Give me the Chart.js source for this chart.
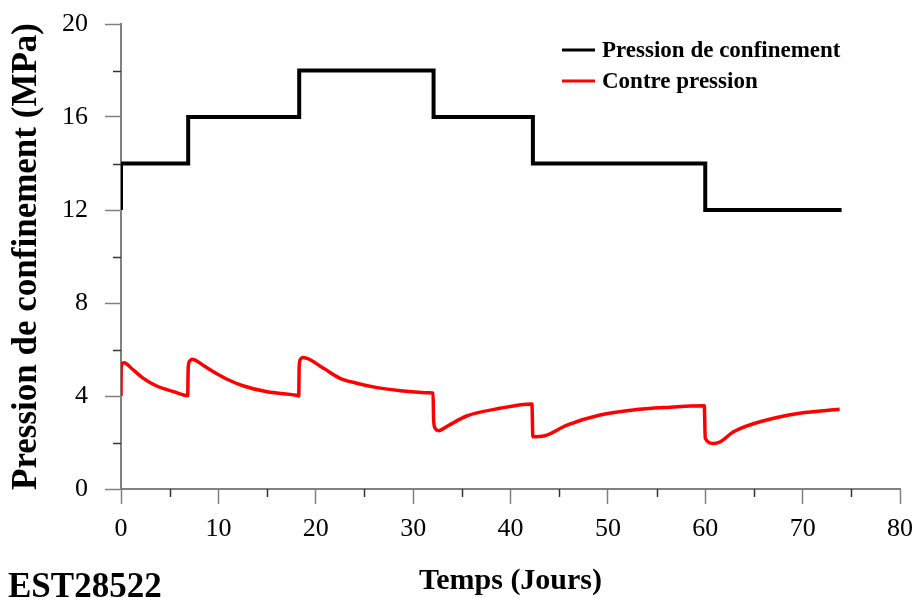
<!DOCTYPE html>
<html>
<head>
<meta charset="utf-8">
<script src="https://cdn.jsdelivr.net/npm/chart.js@4/dist/chart.umd.min.js"></script>
<style>
  html, body { margin: 0; padding: 0; background: #fff; }
  #wrap { position: relative; width: 916px; height: 598px; }
  #code { position: absolute; left: 8px; top: 568px; font: bold 35px "Liberation Serif", serif; line-height: 1; color: #000; }
</style>
</head>
<body>
<div id="wrap">
  <canvas id="chart" width="916" height="598"></canvas>
  <div id="code">EST28522</div>
</div>
<script>
// Pression de confinement (palier)
var confTime  = [0, 0, 6.9, 6.9, 18.3, 18.3, 32.1, 32.1, 42.3, 42.3, 60.0, 60.0, 74.0];
var confPress = [12, 14, 14, 16, 16, 18, 18, 16, 16, 14, 14, 12, 12];

// Contre pression
var backTime  = [0, 0.02, 0.12, 0.3, 1.26, 2.3, 3.66, 5.4, 6.85,
                 6.9, 7.05, 7.3, 8.5, 9.8, 11.0, 12.6, 15.0, 18.0, 18.25,
                 18.3, 18.45, 18.7, 20.8, 22.5, 24.2, 26.3, 28.7, 31.7, 32.05,
                 32.1, 32.25, 32.6, 33.5, 35.5, 38.9, 42.2,
                 42.3, 43.4, 45.8, 49.2, 52.6, 56.0, 59.9,
                 60.0, 60.8, 61.5, 62.9, 66.3, 69.7, 73.8];
var backPress = [4.0, 5.2, 5.4, 5.43, 5.12, 4.76, 4.43, 4.19, 4.02,
                 5.2, 5.5, 5.58, 5.3, 4.97, 4.7, 4.43, 4.18, 4.03, 4.0,
                 5.3, 5.6, 5.66, 5.19, 4.76, 4.55, 4.36, 4.23, 4.14, 4.12,
                 3.0, 2.62, 2.51, 2.7, 3.14, 3.47, 3.66,
                 2.25, 2.28, 2.75, 3.18, 3.40, 3.51, 3.58,
                 2.18, 1.96, 2.02, 2.46, 2.97, 3.26, 3.43];

var xTicks = [0, 10, 20, 30, 40, 50, 60, 70, 80];
var yTicks = [0, 4, 8, 12, 16, 20];
var xMinor = [5, 15, 25, 35, 45, 55, 65, 75];
var yMinor = [2, 6, 10, 14, 18];

function toPoints(xs, ys) {
    return xs.map(function (x, i) { return {x: x, y: ys[i]}; });
}

var serif = '"Liberation Serif", "Times New Roman", serif';

// minor tick marks + legend drawn with the chart scales
var extrasPlugin = {
    id: 'extras',
    afterDraw: function (chart) {
        var ctx = chart.ctx;
        var xs = chart.scales.x, ys = chart.scales.y;
        var area = chart.chartArea;
        ctx.save();
        ctx.strokeStyle = '#333';
        ctx.lineWidth = 1.5;
        xMinor.forEach(function (v) {
            var px = Math.round(xs.getPixelForValue(v)) + 0.5;
            ctx.beginPath();
            ctx.moveTo(px, area.bottom);
            ctx.lineTo(px, area.bottom + 8);
            ctx.stroke();
        });
        yMinor.forEach(function (v) {
            var py = Math.round(ys.getPixelForValue(v)) + 0.5;
            ctx.beginPath();
            ctx.moveTo(area.left - 8, py);
            ctx.lineTo(area.left, py);
            ctx.stroke();
        });
        // legend
        ctx.font = 'bold 23px ' + serif;
        ctx.textBaseline = 'middle';
        chart.data.datasets.forEach(function (ds, i) {
            var y = 50 + i * 31;
            ctx.strokeStyle = ds.borderColor;
            ctx.lineWidth = 3;
            ctx.beginPath();
            ctx.moveTo(562, y);
            ctx.lineTo(595, y);
            ctx.stroke();
            ctx.fillStyle = '#000';
            ctx.fillText(ds.label, 602, y + 1);
        });
        ctx.restore();
    }
};

function noOverflow(scale) {
    scale.paddingTop = 0;
    scale.paddingBottom = 0;
    scale.paddingLeft = 0;
    scale.paddingRight = 0;
}

new Chart(document.getElementById('chart'), {
    type: 'scatter',
    data: {
        datasets: [
            {
                label: 'Pression de confinement',
                data: toPoints(confTime, confPress),
                showLine: true,
                borderColor: '#000000',
                borderWidth: 4,
                pointRadius: 0,
                tension: 0,
                borderJoinStyle: 'miter'
            },
            {
                label: 'Contre pression',
                data: toPoints(backTime, backPress),
                showLine: true,
                borderColor: '#ff0000',
                borderWidth: 3.5,
                pointRadius: 0,
                cubicInterpolationMode: 'monotone'
            }
        ]
    },
    options: {
        responsive: false,
        animation: false,
        layout: { padding: { top: 24, right: 16, left: 0, bottom: 0 } },
        plugins: {
            legend: { display: false },
            tooltip: { enabled: false }
        },
        scales: {
            x: {
                type: 'linear',
                min: 0,
                max: 80,
                afterFit: function (scale) { scale.height = 109; noOverflow(scale); },
                afterBuildTicks: function (scale) {
                    scale.ticks = xTicks.map(function (v) { return {value: v}; });
                },
                grid: { drawOnChartArea: false, tickLength: 15, tickColor: '#808080', tickWidth: 1.5 },
                border: { color: '#808080', width: 2 },
                ticks: {
                    color: '#000',
                    padding: 10,
                    maxRotation: 0,
                    font: { family: serif, size: 26 }
                },
                title: {
                    display: true,
                    text: 'Temps (Jours)',
                    color: '#000',
                    font: { family: serif, size: 30, weight: 'bold', lineHeight: 1 },
                    padding: { top: 0, bottom: 2 }
                }
            },
            y: {
                type: 'linear',
                min: 0,
                max: 20,
                afterFit: function (scale) { scale.width = 121; noOverflow(scale); },
                afterBuildTicks: function (scale) {
                    scale.ticks = yTicks.map(function (v) { return {value: v}; });
                },
                grid: { drawOnChartArea: false, tickLength: 16, tickColor: '#808080', tickWidth: 1.5 },
                border: { color: '#808080', width: 2 },
                ticks: {
                    color: '#000',
                    padding: 17,
                    font: { family: serif, size: 26 }
                },
                title: {
                    display: true,
                    text: 'Pression de confinement (MPa)',
                    color: '#000',
                    font: { family: serif, size: 35, weight: 'bold', lineHeight: 1 },
                    padding: { top: 9, bottom: 0 }
                }
            }
        }
    },
    plugins: [extrasPlugin]
});
</script>
</body>
</html>
